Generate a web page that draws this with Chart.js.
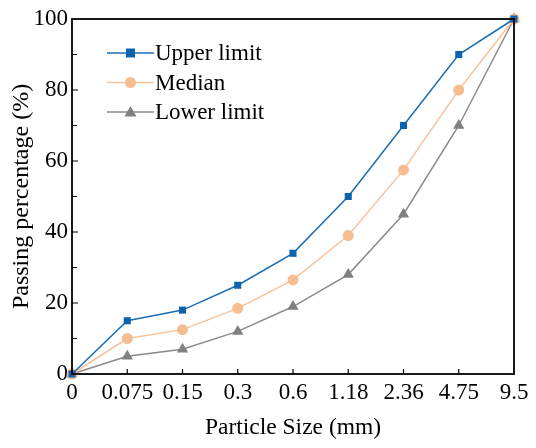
<!DOCTYPE html>
<html lang="en">
<head>
    <meta charset="UTF-8">
    <title>Particle size distribution</title>
    <script src="https://cdn.jsdelivr.net/npm/chart.js"></script>
    <style>
        html, body { margin: 0; padding: 0; background: #fff; overflow: hidden; }
        canvas { display: block; }
    </style>
</head>
<body>
<canvas id="gradation" width="536" height="448"></canvas>
<script>
    // sieve sizes (mm), evenly spaced on the axis
    const sizes = ['0', '0.075', '0.15', '0.3', '0.6', '1.18', '2.36', '4.75', '9.5'];
    const upperLimit = [0, 15, 18, 25, 34, 50, 70, 90, 100];
    const median = [0, 10, 12.5, 18.5, 26.5, 39, 57.5, 80, 100];
    const lowerLimit = [0, 5, 7, 12, 19, 28, 45, 70, 100];
    const yTicks = [0, 20, 40, 60, 80, 100];

    const serif = '"Liberation Serif", "Times New Roman", serif';

    // frame, inward ticks and the line+marker legend
    const framePlugin = {
        id: 'frame',
        afterDraw(chart) {
            const ctx = chart.ctx;
            const a = chart.chartArea;
            const x = chart.scales.x, y = chart.scales.y;
            ctx.save();
            ctx.strokeStyle = '#000';
            ctx.lineWidth = 1.8;
            ctx.strokeRect(a.left, a.top, a.right - a.left, a.bottom - a.top);

            ctx.lineWidth = 1.2;
            ctx.beginPath();
            for (let v = 10; v < 100; v += 10) {
                const py = y.getPixelForValue(v);
                const len = v % 20 === 0 ? 6 : 5;
                ctx.moveTo(a.left, py);
                ctx.lineTo(a.left + len, py);
            }
            for (let i = 1; i < sizes.length - 1; i++) {
                const px = x.getPixelForValue(i);
                ctx.moveTo(px, a.bottom);
                ctx.lineTo(px, a.bottom - 5);
            }
            ctx.stroke();

            // legend
            ctx.font = '23px ' + serif;
            ctx.textBaseline = 'middle';
            chart.data.datasets.forEach((ds, i) => {
                const ly = 53 + i * 29.5;
                const x0 = 107, x1 = 154, xm = (x0 + x1) / 2;
                ctx.strokeStyle = ds.borderColor;
                ctx.lineWidth = 1.5;
                ctx.beginPath();
                ctx.moveTo(x0, ly);
                ctx.lineTo(x1, ly);
                ctx.stroke();
                ctx.fillStyle = ds.pointBackgroundColor;
                ctx.beginPath();
                if (ds.pointStyle === 'rect') {
                    ctx.rect(xm - 4.5, ly - 4.5, 9, 9);
                } else if (ds.pointStyle === 'circle') {
                    ctx.arc(xm, ly, 5.5, 0, Math.PI * 2);
                } else {
                    ctx.moveTo(xm, ly - 6);
                    ctx.lineTo(xm + 6, ly + 4.5);
                    ctx.lineTo(xm - 6, ly + 4.5);
                    ctx.closePath();
                }
                ctx.fill();
                ctx.fillStyle = '#000';
                ctx.fillText(ds.label, x1 + 1, ly + 1);
            });
            ctx.restore();
        }
    };

    new Chart(document.getElementById('gradation'), {
        type: 'line',
        data: {
            labels: sizes,
            datasets: [
                {
                    label: 'Upper limit',
                    data: upperLimit,
                    borderColor: '#1a6db3',
                    pointBackgroundColor: '#0d63ad',
                    pointBorderWidth: 0,
                    pointStyle: 'rect',
                    pointRadius: 5
                },
                {
                    label: 'Median',
                    data: median,
                    borderColor: '#f7c39b',
                    pointBackgroundColor: '#f6bd92',
                    pointBorderWidth: 0,
                    pointStyle: 'circle',
                    pointRadius: 5.5
                },
                {
                    label: 'Lower limit',
                    data: lowerLimit,
                    borderColor: '#8a8a8a',
                    pointBackgroundColor: '#808080',
                    pointBorderWidth: 0,
                    pointStyle: 'triangle',
                    pointRadius: 6.5
                }
            ]
        },
        options: {
            responsive: false,
            animation: false,
            devicePixelRatio: 1,
            clip: false,
            borderWidth: 1.5,
            layout: { padding: { top: 19, right: 22, left: 0, bottom: 0 } },
            plugins: {
                legend: { display: false },
                tooltip: { enabled: false }
            },
            scales: {
                x: {
                    type: 'category',
                    offset: false,
                    grid: { display: false, drawTicks: false },
                    border: { display: false },
                    ticks: {
                        color: '#000',
                        font: { family: serif, size: 23 },
                        padding: 5,
                        maxRotation: 0,
                        autoSkip: false
                    },
                    title: {
                        display: true,
                        text: 'Particle Size (mm)',
                        color: '#000',
                        font: { family: serif, size: 23.5 },
                        padding: { top: 4, bottom: 6 }
                    },
                    afterFit(scale) { scale.height = 74; }
                },
                y: {
                    min: 0,
                    max: 100,
                    afterBuildTicks(scale) { scale.ticks = yTicks.map(v => ({ value: v })); },
                    grid: { display: false, drawTicks: false },
                    border: { display: false },
                    ticks: {
                        color: '#000',
                        font: { family: serif, size: 23 },
                        padding: 4
                    },
                    title: {
                        display: true,
                        text: 'Passing percentage (%)',
                        color: '#000',
                        font: { family: serif, size: 24 },
                        padding: { top: 7.5, bottom: 7.5 }
                    },
                    afterFit(scale) { scale.width = 72; }
                }
            }
        },
        plugins: [framePlugin]
    });
</script>
</body>
</html>
